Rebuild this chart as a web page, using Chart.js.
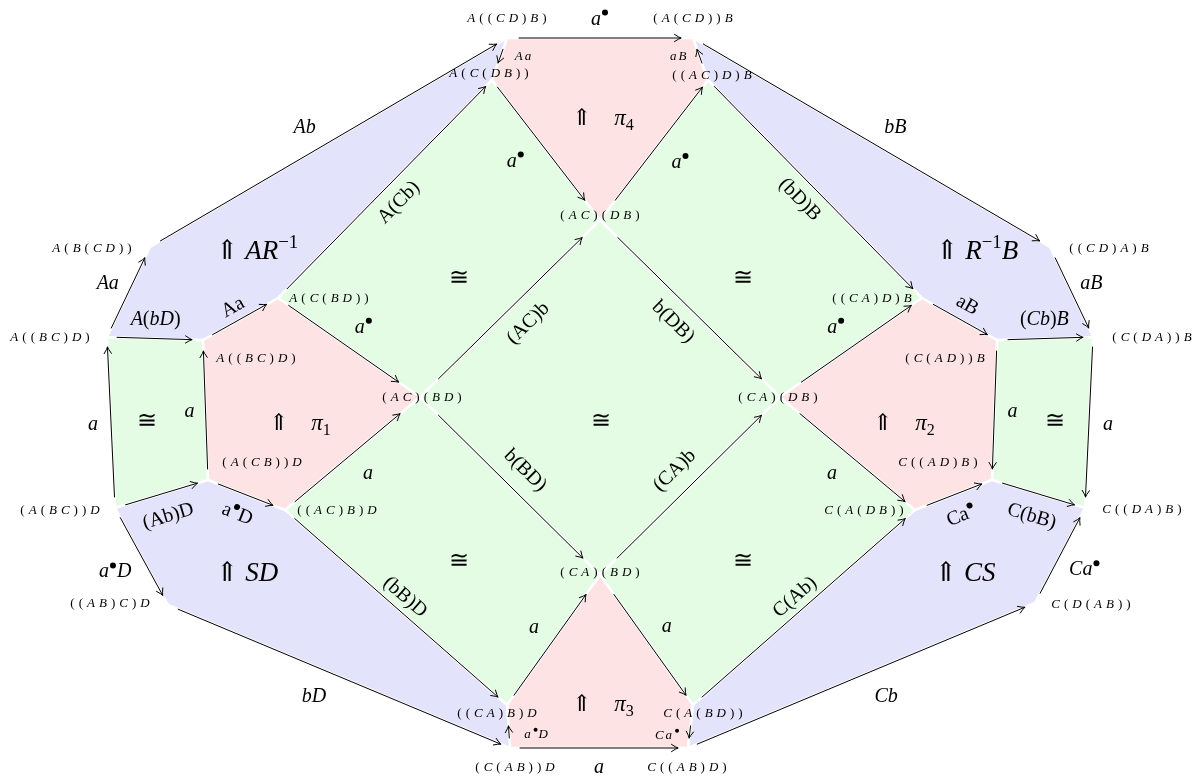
<!DOCTYPE html>
<html>
<head>
<meta charset="utf-8">
<script src="https://cdn.jsdelivr.net/npm/chart.js@4/dist/chart.umd.min.js"></script>
<style>
  html, body { margin: 0; padding: 0; background: #fff; }
  canvas { display: block; }
</style>
</head>
<body>
<canvas id="diagram" width="1194" height="776"></canvas>
<script>
// ---- data: objects (vertices) of the diagram ----
const nodeKeys = ['n1','n2','n3','n4','n5','n6','n7','n8','n9','n10','n11','n12','n13','n14',
                  'n15','n16','n17','n18','n19','n20','n21','n22','n23','n24','n25','n26','n27','n28'];
const nodeLabels = ['A((CD)B)','(A(CD))B','A(C(DB))','((AC)D)B','(AC)(DB)','A(B(CD))','((CD)A)B',
                    'A(C(BD))','((CA)D)B','A((BC)D)','A((BC)D)','(C(AD))B','(C(DA))B','(AC)(BD)',
                    '(CA)(DB)','(A(CB))D','C((AD)B)','(A(BC))D','((AC)B)D','C(A(DB))','C((DA)B)',
                    '(CA)(BD)','((AB)C)D','C(D(AB))','((CA)B)D','C(A(BD))','(C(AB))D','C((AB)D)'];
const nodeX = [507, 693, 492, 708, 600, 150, 1050, 278, 922, 107, 203, 997, 1093, 420,
               780, 208, 992, 115, 285, 915, 1085, 600, 168, 1035, 507, 693, 510, 688];
const nodeY = [38, 38, 80, 80, 220, 247, 247, 298, 298, 337, 340, 340, 337, 397,
               397, 480, 480, 508, 510, 510, 508, 575, 605, 603, 705, 705, 748, 748];

// ---- data: morphisms (arrows) ----
const edgeFrom = ['n1','n1','n4','n6','n2','n8','n3','n5','n4','n14','n5','n14','n22','n10',
                  'n7','n10','n11','n8','n9','n12','n15','n18','n16','n12','n13','n18','n16','n19',
                  'n15','n20','n17','n18','n24','n23','n28','n19','n26','n25','n22','n27','n26','n27'];
const edgeTo   = ['n2','n3','n2','n1','n7','n3','n5','n4','n9','n5','n15','n22','n15','n6',
                  'n13','n11','n8','n14','n12','n13','n9','n10','n11','n17','n21','n16','n19','n14',
                  'n20','n17','n21','n23','n21','n27','n24','n25','n20','n22','n26','n25','n28','n28'];
const edgeLabels = ['a^•','Aa','aB','Ab','bB','A(Cb)','a^•','a^•','(bD)B','(AC)b','b(DB)','b(BD)','(CA)b','Aa',
                    'aB','A(bD)','Aa','a^•','aB','(Cb)B','a^•','a','a','a','a','(Ab)D','a^•D','a',
                    'a','Ca^•','C(bB)','a^•D','Ca^•','bD','Cb','(bB)D','C(Ab)','a','a','a^•D','Ca^•','a'];

// ---- data: 2-cells (faces) ----
const regionNodes = [
  ['n6','n1','n3','n8','n11','n10'], ['n2','n7','n13','n12','n9','n4'],
  ['n18','n16','n19','n25','n27','n23'], ['n17','n21','n24','n28','n26','n20'],
  ['n1','n2','n4','n5','n3'], ['n11','n8','n14','n19','n16'],
  ['n12','n9','n15','n20','n17'], ['n22','n26','n28','n27','n25'],
  ['n10','n11','n16','n18'], ['n12','n13','n21','n17'],
  ['n3','n5','n14','n8'], ['n4','n9','n15','n5'], ['n5','n15','n22','n14'],
  ['n14','n22','n25','n19'], ['n15','n20','n26','n22']
];
const regionKinds = ['blue','blue','blue','blue','pink','pink','pink','pink',
                     'green','green','green','green','green','green','green'];
const regionLabels = ['⇑ AR^{-1}','⇑ R^{-1}B','⇑ SD','⇑ CS',
                      '⇑\u2003π_4','⇑\u2003π_1','⇑\u2003π_2','⇑\u2003π_3',
                      '≅','≅','≅','≅','≅','≅','≅'];

// ---- layout ----
const nodeLabelDx = [0, 0, -3, 4, 0, -58, 59, 51, -50, -57, 53, -52, 59, 2,
                     -2, 54, -54, -55, 52, -51, 57, 0, -58, 56, -10, 10, 5, -1];
const nodeLabelDy = [-20, -20, -7, -5, -5, 1, 1, 0, 0, 0, 18, 18, 0, 0,
                     0, -18, -18, 2, 0, 0, 1, -3, -2, 1, 8, 8, 19, 19];
const nodeGap = [12, 12, 9, 9, 25, 12, 12, 13, 13, 10, 11, 11, 10, 26,
                 26, 11, 11, 11, 13, 13, 11, 24, 11, 11, 12, 12, 10, 10];
// arrows that stop short of a label sitting right next to them: [start gap, end gap]
const edgeGapOverride = { 1: [12, 18], 2: [18, 12], 39: [10, 21], 40: [21, 10] };
const edgeLabelT   = [.5, .25, .73, .47, .53, .5, .44, .54, .49, .51, .49, .5, .5, .5,
                      .5, .5, .49, .5, .5, .5, .5, .5, .5, .5, .5, .5, .48, .5,
                      .5, .5, .5, .5, .5, .457, .54, .5, .5, .5, .5, .3, .74, .5];
const edgeLabelOff = [20, 21, 20, 26, 26, -18, -30, -28, -17, -22, -20, 23, 23, 23,
                      22, 20, 15, 26, 17, 20, 26, 18, 16, 18, 19, -22, -20, -24,
                      -24, -21, -22, -30, -28, -27, -28, 15, 15, 24, 25, -27, -22, -18];
const edgeLabelRot = [0,0,0,0,0,1,0,0,1,1,1,1,1,0, 0,0,1,0,1,0,0,0,0,0,0,1,1,0, 0,1,1,0,0,0,0,1,1,0,0,0,0,0];
const edgeLabelSmall = [0,1,1,0,0,0,0,0,0,0,0,0,0,0, 0,0,0,0,0,0,0,0,0,0,0,0,0,0, 0,0,0,0,0,0,0,0,0,0,0,1,1,0];
const regionLabelX = [257, 977, 247, 965, 603, 300, 904, 603, 147, 1055, 459, 743, 601, 459, 743];
const regionLabelY = [250, 250, 572, 572, 117, 422, 422, 703, 420, 420, 277, 277, 420, 560, 560];

const fills = { blue: '#e3e3fb', pink: '#fde3e3', green: '#e3fce3' };
const FAM = "'Liberation Serif', 'DejaVu Serif', serif";

const idx = (k) => nodeKeys.indexOf(k);

// lay out a small piece of math: letters italic, punctuation upright, ^ and _ groups
function mathRuns(ctx, str, size, italic, spacing) {
    const items = [];
    let x = 0, trail = 0;
    const put = (ch, sz, dy, top) => {
        if (ch === '•') {
            const r = size * 0.15;
            items.push({ dot: true, x: x + r + 1, dy: -size * 0.6, r: r });
            x += 2 * r + 2; trail = 0;
            return;
        }
        if (ch === '-') ch = '\u2212';
        const it = italic && /[A-Za-zπ]/.test(ch);
        const font = (it ? 'italic ' : '') + sz + 'px ' + FAM;
        ctx.font = font;
        const w = ctx.measureText(ch).width;
        items.push({ ch: ch, font: font, x: x, dy: dy });
        x += w;
        trail = top ? spacing : 0;
        x += trail;
    };
    for (let i = 0; i < str.length; i++) {
        const c = str[i];
        if (c === '^' || c === '_') {
            let grp;
            if (str[i + 1] === '{') {
                const j = str.indexOf('}', i);
                grp = str.slice(i + 2, j);
                i = j;
            } else {
                grp = str[i + 1];
                i++;
            }
            const dy = c === '^' ? -size * 0.42 : size * 0.22;
            for (const g of grp) put(g, size * 0.7, dy, false);
        } else {
            put(c, size, 0, true);
        }
    }
    return { items: items, width: x - trail };
}

function drawMath(ctx, str, cx, cy, size, italic, spacing, angle) {
    const m = mathRuns(ctx, str, size, italic, spacing);
    ctx.save();
    ctx.translate(cx, cy);
    if (angle) ctx.rotate(angle);
    const x0 = -m.width / 2, base = size * 0.33;
    ctx.fillStyle = '#000';
    ctx.textBaseline = 'alphabetic';
    ctx.textAlign = 'left';
    m.items.forEach(it => {
        if (it.dot) {
            ctx.beginPath();
            ctx.arc(x0 + it.x, base + it.dy, it.r, 0, Math.PI * 2);
            ctx.fill();
        } else {
            ctx.font = it.font;
            ctx.fillText(it.ch, x0 + it.x, base + it.dy);
        }
    });
    ctx.restore();
}

function arrowHead(ctx, x, y, ux, uy) {
    const nx = -uy, ny = ux, L = 6.5, W = 3.6;
    ctx.beginPath();
    ctx.moveTo(x - L * ux + W * nx, y - L * uy + W * ny);
    ctx.quadraticCurveTo(x - 2 * ux + 0.6 * nx, y - 2 * uy + 0.6 * ny, x, y);
    ctx.quadraticCurveTo(x - 2 * ux - 0.6 * nx, y - 2 * uy - 0.6 * ny, x - L * ux - W * nx, y - L * uy - W * ny);
    ctx.stroke();
}

const diagramPlugin = {
    id: 'diagram',
    beforeDatasetDraw(chart, args) {
        const ctx = chart.ctx;
        const pts = args.meta.data;
        ctx.save();
        ctx.beginPath();
        pts.forEach((p, j) => j ? ctx.lineTo(p.x, p.y) : ctx.moveTo(p.x, p.y));
        ctx.closePath();
        ctx.fillStyle = chart.data.datasets[args.index].backgroundColor;
        ctx.fill();
        ctx.restore();
    },
    afterDatasetsDraw(chart) {
        const ctx = chart.ctx;
        const sx = chart.scales.x, sy = chart.scales.y;
        const px = (i) => sx.getPixelForValue(nodeX[i]);
        const py = (i) => sy.getPixelForValue(nodeY[i]);

        // arrows
        ctx.save();
        ctx.strokeStyle = '#000';
        ctx.lineWidth = 1;
        ctx.lineCap = 'round';
        edgeFrom.forEach((f, e) => {
            const a = idx(f), b = idx(edgeTo[e]);
            const x1 = px(a), y1 = py(a), x2 = px(b), y2 = py(b);
            const len = Math.hypot(x2 - x1, y2 - y1);
            const ux = (x2 - x1) / len, uy = (y2 - y1) / len;
            const gaps = edgeGapOverride[e] || [nodeGap[a], nodeGap[b]];
            const sxp = x1 + ux * gaps[0], syp = y1 + uy * gaps[0];
            const exp = x2 - ux * gaps[1], eyp = y2 - uy * gaps[1];
            ctx.beginPath();
            ctx.moveTo(sxp, syp);
            ctx.lineTo(exp, eyp);
            ctx.stroke();
            arrowHead(ctx, exp, eyp, ux, uy);

            // label
            const t = edgeLabelT[e];
            const mx = x1 + (x2 - x1) * t, my = y1 + (y2 - y1) * t;
            const nx = uy, ny = -ux;
            const lx = mx + nx * edgeLabelOff[e], ly = my + ny * edgeLabelOff[e];
            let ang = 0;
            if (edgeLabelRot[e]) {
                ang = Math.atan2(uy, ux);
                if (ang > Math.PI / 2) ang -= Math.PI;
                if (ang < -Math.PI / 2) ang += Math.PI;
            }
            if (edgeLabelSmall[e]) {
                drawMath(ctx, edgeLabels[e], lx, ly, 13, true, 2, 0);
            } else if (edgeLabelRot[e]) {
                drawMath(ctx, edgeLabels[e], lx, ly, 20, false, 0, ang);
            } else {
                drawMath(ctx, edgeLabels[e], lx, ly, 20, true, 0, 0);
            }
        });
        ctx.restore();

        // objects
        nodeLabels.forEach((s, i) => {
            drawMath(ctx, s, px(i) + nodeLabelDx[i], py(i) + nodeLabelDy[i], 13, true, 4, 0);
        });

        // 2-cell labels
        regionLabels.forEach((s, r) => {
            const x = sx.getPixelForValue(regionLabelX[r]);
            const y = sy.getPixelForValue(regionLabelY[r]);
            const size = regionKinds[r] === 'blue' ? 27 : (regionKinds[r] === 'pink' ? 23 : 24);
            drawMath(ctx, s, x, y, size, true, 0, 0);
        });
    }
};

const datasets = regionNodes.map((ns, r) => {
    const pts = ns.map(k => ({ x: nodeX[idx(k)], y: nodeY[idx(k)] }));
    pts.push(pts[0]);
    return {
        label: 'face ' + (r + 1),
        data: pts,
        showLine: true,
        fill: false,
        tension: 0,
        backgroundColor: fills[regionKinds[r]],
        borderColor: '#ffffff',
        borderWidth: 2.5,
        pointRadius: 0,
        pointHoverRadius: 0
    };
});

new Chart(document.getElementById('diagram'), {
    type: 'scatter',
    data: { datasets: datasets },
    options: {
        responsive: false,
        animation: false,
        events: [],
        layout: { padding: 0 },
        scales: {
            x: { type: 'linear', min: 0, max: 1194, display: false },
            y: { type: 'linear', min: 0, max: 776, reverse: true, display: false }
        },
        plugins: {
            legend: { display: false },
            tooltip: { enabled: false }
        }
    },
    plugins: [diagramPlugin]
});
</script>
</body>
</html>
